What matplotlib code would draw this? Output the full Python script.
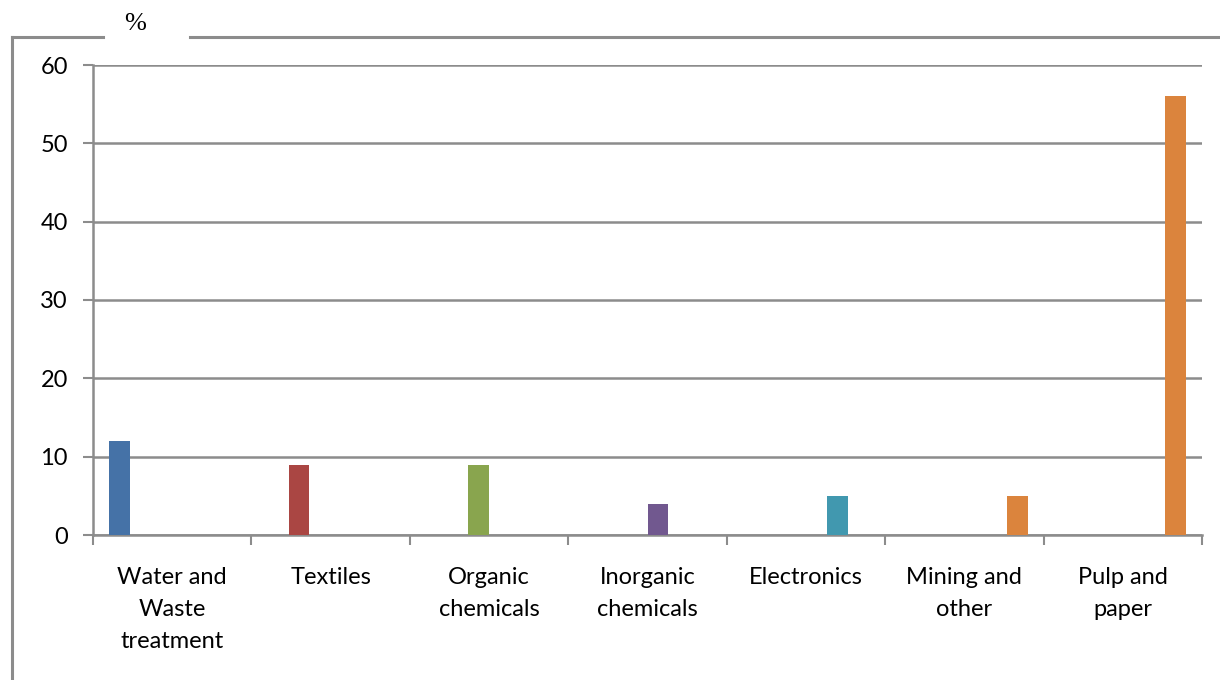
import numpy as np
import matplotlib
matplotlib.use("Agg")
import matplotlib.pyplot as plt
from matplotlib.lines import Line2D

categories = ["Water and\nWaste\ntreatment", "Textiles", "Organic\nchemicals",
              "Inorganic\nchemicals", "Electronics", "Mining and\nother", "Pulp and\npaper"]
values = [12, 9, 9, 4, 5, 5, 56]
# which Excel series each bar belongs to (Mining and Pulp share one series)
series_idx = [0, 1, 2, 3, 4, 5, 5]
colors = ["#4572A7", "#AA4643", "#89A54E", "#71588F", "#4198AF", "#DB843D"]
yticks = [0, 10, 20, 30, 40, 50, 60]

n_series = len(colors)
cluster = 0.80
bw = cluster / n_series

plt.rcParams['font.family'] = ['Lato', 'DejaVu Sans']
grey = "#8c8c8c"

fig = plt.figure(figsize=(12.2, 6.8), dpi=100)
ax = fig.add_axes([93 / 1220, 1 - 535 / 680, (1202 - 93) / 1220, (535 - 65) / 680])

x = np.arange(len(categories))
for i, (v, s) in enumerate(zip(values, series_idx)):
    xpos = x[i] - cluster / 2 + (s + 0.5) * bw
    ax.bar(xpos, v, width=bw * 0.98, color=colors[s], zorder=3)

ax.set_xlim(-0.5, len(categories) - 0.5)
ax.set_ylim(0, 60)
ax.set_yticks(yticks)
ax.set_yticklabels([str(t) for t in yticks], fontsize=17)
ax.tick_params(axis='y', length=7, width=1.5, color=grey, pad=11)

# category boundaries as major ticks, labels on minor ticks
ax.set_xticks(np.arange(-0.5, len(categories), 1.0))
ax.set_xticklabels([])
ax.set_xticks(x, minor=True)
ax.set_xticklabels(categories, minor=True, fontsize=17, linespacing=1.65)
ax.tick_params(axis='x', which='major', length=7, width=1.5, color=grey)
ax.tick_params(axis='x', which='minor', length=0, pad=23)

ax.grid(axis='y', color=grey, linewidth=1.8, zorder=0)
for side in ['top', 'right']:
    ax.spines[side].set_visible(False)
for side in ['left', 'bottom']:
    ax.spines[side].set_color(grey)
    ax.spines[side].set_linewidth(1.8)

# outer chart frame with gap for the unit label
fw = 2.2
fig.add_artist(Line2D([12 / 1220, 12 / 1220], [0, 1 - 37 / 680], color=grey, lw=fw,
                      transform=fig.transFigure))
fig.add_artist(Line2D([12 / 1220, 103 / 1220], [1 - 37 / 680] * 2, color=grey, lw=fw,
                      transform=fig.transFigure))
fig.add_artist(Line2D([190 / 1220, 1], [1 - 37 / 680] * 2, color=grey, lw=fw,
                      transform=fig.transFigure))
fig.text(135 / 1220, 1 - 24 / 680, "%", family="Liberation Serif", fontsize=19,
         ha="center", va="center")

fig.savefig("out.png", dpi=100)
